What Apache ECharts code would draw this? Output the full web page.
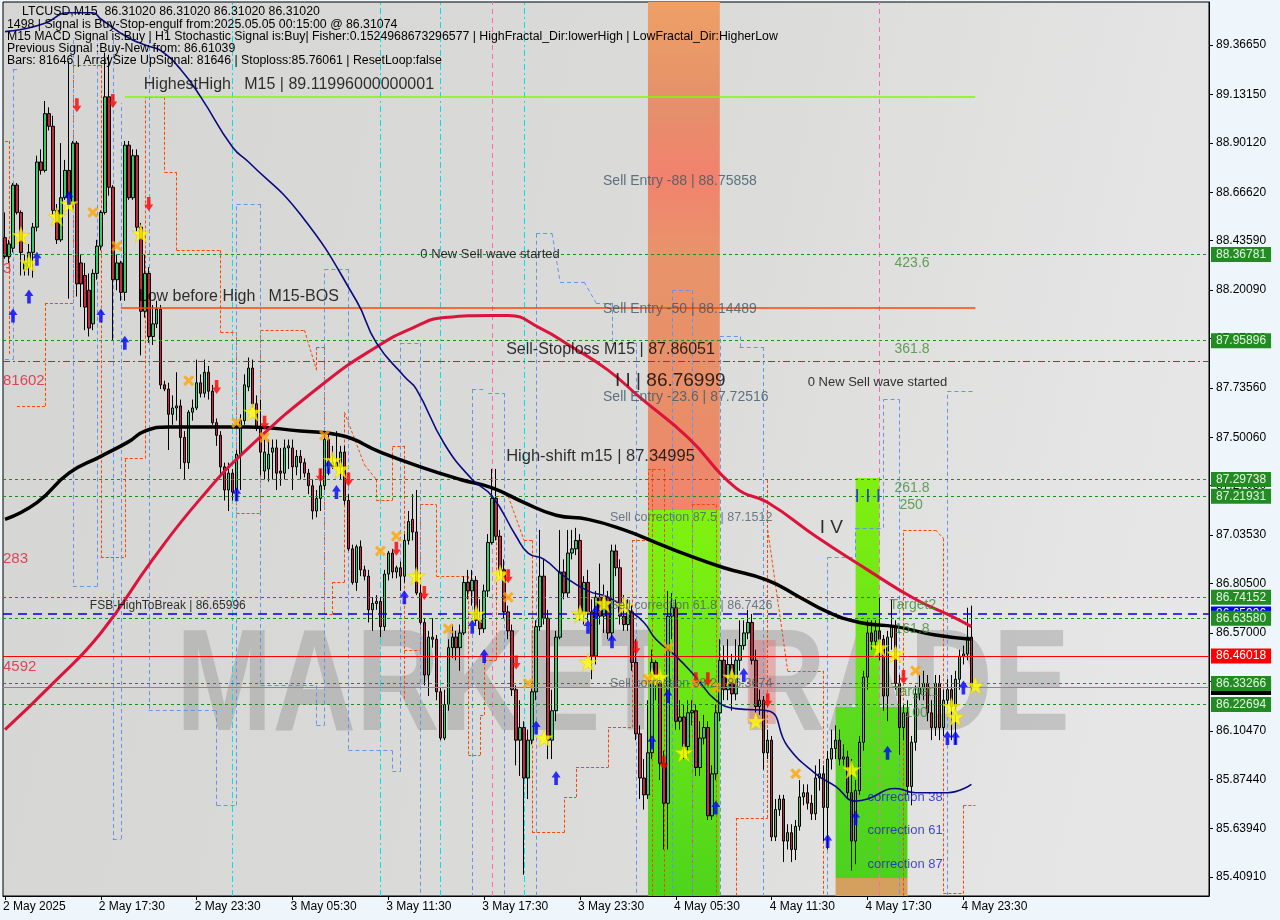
<!DOCTYPE html>
<html><head><meta charset="utf-8">
<script src="https://cdn.jsdelivr.net/npm/echarts@6/dist/echarts.min.js"></script>
<style>html,body{margin:0;padding:0;background:#eef5fb;}#c{width:1280px;height:920px;}</style>
</head><body><div id="c"></div>
<script>
const tickLabels = ['2 May 2025','2 May 17:30','2 May 23:30','3 May 05:30','3 May 11:30','3 May 17:30','3 May 23:30','4 May 05:30','4 May 11:30','4 May 17:30','4 May 23:30'];
const priceTicks = [89.3665,89.1315,88.9012,88.6662,88.4359,88.2009,87.9706,87.7356,87.5006,87.2703,87.0353,86.8050,86.5700,86.3397,86.1047,85.8744,85.6394,85.4091];
// [open, close, low, high]
const candles = [
[88.45,88.36,88.35,88.57],[88.36,88.42,88.33,88.44],[88.40,88.70,88.38,88.71],[88.70,88.57,88.56,88.71],[88.57,88.38,88.27,88.58],
[88.30,88.33,88.27,88.37],[88.31,88.38,88.27,88.42],[88.38,88.50,88.26,88.52],[88.50,88.81,88.48,88.84],[88.81,88.77,88.75,88.87],
[88.77,89.04,88.76,89.10],[89.04,88.98,88.96,89.07],[88.98,88.58,88.56,89.03],[88.58,88.44,88.42,88.61],[88.44,88.64,88.43,88.90],
[88.64,88.77,88.63,88.82],[88.77,88.61,88.16,89.29],[88.61,88.90,88.58,88.91],[88.90,88.23,88.17,88.91],[88.33,88.23,88.12,88.37],
[88.27,88.12,88.01,88.33],[88.20,88.02,87.98,88.28],[88.04,88.28,88.01,88.30],[88.28,88.41,88.25,88.44],[88.41,88.57,88.39,88.58],
[88.57,89.12,88.56,89.33],[89.12,88.69,88.65,89.32],[88.69,88.25,87.96,88.70],[88.25,88.33,88.20,88.37],[88.33,88.19,88.15,88.34],
[88.19,88.89,88.15,88.91],[88.89,88.64,88.63,88.91],[88.64,88.84,88.63,88.87],[88.84,88.50,88.48,88.87],[88.50,88.10,87.89,88.52],
[88.10,88.28,88.07,88.37],[88.28,87.98,87.95,88.31],[87.98,88.04,87.94,88.13],[88.04,88.11,88.02,88.15],[88.11,87.75,87.73,88.13],
[87.75,87.73,87.72,87.77],[87.73,87.61,87.44,87.76],[87.61,87.64,87.56,87.70],[87.64,87.65,87.58,87.81],[87.65,87.50,87.35,87.68],
[87.50,87.38,87.30,87.53],[87.38,87.62,87.35,87.63],[87.62,87.64,87.58,87.68],[87.64,87.76,87.63,87.87],[87.76,87.71,87.69,87.80],
[87.71,87.81,87.69,87.87],[87.81,87.72,87.68,87.84],[87.72,87.57,87.56,87.75],[87.57,87.51,87.46,87.59],[87.51,87.36,87.31,87.53],
[87.36,87.25,87.20,87.38],[87.25,87.33,87.15,87.38],[87.33,87.24,87.20,87.35],[87.25,87.42,87.20,87.44],[87.42,87.58,87.25,87.61],
[87.58,87.75,87.56,87.80],[87.74,87.83,87.72,87.88],[87.83,87.66,87.64,87.87],[87.66,87.55,87.53,87.70],[87.55,87.43,87.32,87.68],
[87.34,87.43,87.30,87.49],[87.35,87.42,87.29,87.49],[87.43,87.45,87.30,87.49],[87.45,87.33,87.25,87.49],[87.34,87.33,87.27,87.45],
[87.33,87.45,87.30,87.49],[87.45,87.46,87.35,87.49],[87.45,87.36,87.25,87.49],[87.36,87.41,87.32,87.44],[87.41,87.38,87.30,87.44],
[87.38,87.33,87.31,87.40],[87.33,87.27,87.23,87.35],[87.27,87.15,87.11,87.30],[87.15,87.21,87.12,87.25],[87.21,87.27,87.15,87.35],
[87.27,87.49,87.25,87.51],[87.49,87.36,87.32,87.53],[87.36,87.38,87.35,87.46],[87.38,87.36,87.35,87.53],[87.36,87.43,87.30,87.46],
[87.43,87.20,87.18,87.46],[87.20,86.97,86.96,87.23],[86.97,86.81,86.80,86.99],[86.81,86.98,86.77,86.99],[86.98,86.87,86.84,87.01],
[86.87,86.84,86.82,86.89],[86.84,86.68,86.62,86.87],[86.68,86.71,86.58,86.74],[86.71,86.72,86.68,86.75],[86.72,86.60,86.55,86.74],
[86.60,86.85,86.58,86.87],[86.85,86.95,86.82,86.96],[86.95,86.86,86.83,86.97],[86.86,86.88,86.83,86.89],[86.88,86.84,86.77,86.91],
[86.84,87.01,86.81,87.04],[87.01,87.10,86.99,87.15],[87.11,87.05,87.01,87.23],[87.05,86.76,86.75,87.25],[86.76,86.62,86.61,86.80],
[86.62,86.37,86.32,86.64],[86.37,86.55,86.27,86.58],[86.55,86.54,86.50,86.64],[86.54,86.29,86.25,86.56],[86.29,86.07,86.06,86.31],
[86.07,86.23,86.06,86.30],[86.23,86.50,86.20,86.54],[86.50,86.55,86.45,86.61],[86.55,86.50,86.44,86.58],[86.50,86.57,86.39,86.61],
[86.57,86.81,86.56,86.84],[86.81,86.77,86.73,86.87],[86.77,86.82,86.70,86.87],[86.82,86.63,86.61,86.84],[86.63,86.59,86.56,86.73],
[86.59,86.77,86.57,86.80],[86.77,87.00,86.74,87.04],[87.00,87.21,86.99,87.35],[87.21,87.03,87.01,87.35],[87.03,86.87,86.84,87.06],
[86.87,86.67,86.64,86.92],[86.67,86.58,86.54,86.70],[86.58,86.30,86.27,86.61],[86.30,86.06,85.94,86.32],[86.06,86.12,85.89,86.25],
[86.12,85.88,85.42,86.15],[85.88,86.06,85.78,86.11],[86.06,86.29,86.04,86.32],[86.29,86.60,86.25,86.63],[86.60,86.84,86.58,87.06],
[86.84,86.64,86.61,86.92],[86.64,86.06,85.97,86.68],[86.06,86.20,85.97,86.30],[86.20,86.55,86.15,86.58],[86.55,86.86,86.54,87.06],
[86.86,86.76,86.73,86.92],[86.76,86.95,86.74,87.06],[86.95,86.97,86.92,87.06],[86.97,87.01,86.94,87.07],[87.01,86.66,86.63,87.04],
[86.66,86.81,86.61,86.84],[86.81,86.67,86.63,86.87],[86.67,86.46,86.35,86.73],[86.46,86.74,86.42,86.77],[86.74,86.65,86.61,86.90],
[86.65,86.74,86.57,86.80],[86.74,86.57,86.54,86.77],[86.57,86.96,86.54,86.99],[86.96,86.88,86.84,86.99],[86.88,86.65,86.61,86.92],
[86.65,86.61,86.58,86.75],[86.61,86.67,86.58,86.73],[86.67,86.43,86.39,86.70],[86.43,86.09,86.06,86.54],[86.09,85.88,85.78,86.13],
[85.88,85.80,85.73,85.97],[85.80,86.00,85.78,86.25],[86.00,86.43,85.97,86.49],[86.43,86.33,86.25,86.44],[86.33,85.95,85.87,86.39],
[85.95,85.76,85.54,86.01],[85.76,86.65,85.54,86.77],[86.65,86.69,86.54,86.76],[86.69,86.15,86.11,86.73],[86.15,86.17,86.11,86.25],
[86.17,86.03,85.97,86.23],[86.03,86.19,85.97,86.25],[86.19,86.20,86.13,86.25],[86.20,85.93,85.89,86.23],[85.93,86.07,85.89,86.15],
[86.07,86.12,86.04,86.18],[86.12,85.70,85.68,86.15],[85.70,85.90,85.68,85.94],[85.90,86.19,85.87,86.23],[86.19,86.44,86.15,86.54],
[86.44,86.30,86.25,86.51],[86.30,86.42,86.25,86.54],[86.42,86.28,86.20,86.47],[86.28,86.44,86.25,86.54],[86.44,86.51,86.39,86.63],
[86.51,86.57,86.49,86.63],[86.57,86.62,86.54,86.68],[86.62,86.44,86.42,86.66],[86.44,86.22,86.19,86.49],[86.22,86.25,86.18,86.30],
[86.25,86.00,85.92,86.27],[86.00,86.06,85.97,86.11],[86.06,85.60,85.58,86.08],[85.60,85.73,85.58,85.78],[85.73,85.78,85.70,85.80],
[85.78,85.58,85.48,85.80],[85.58,85.62,85.54,85.66],[85.62,85.54,85.48,85.66],[85.54,85.65,85.49,85.68],[85.65,85.79,85.63,85.87],
[85.79,85.81,85.75,85.85],[85.81,85.76,85.73,85.85],[85.76,85.71,85.68,85.80],[85.71,85.88,85.68,85.94],[85.88,85.90,85.82,85.97],
[85.90,85.74,85.58,85.94],[85.74,85.97,85.54,86.01],[85.97,86.02,85.92,86.11],[86.02,86.06,85.97,86.13],[86.06,85.97,85.94,86.11],
[85.97,85.98,85.94,86.04],[85.98,85.81,85.78,86.01],[85.81,85.58,85.44,85.97],[85.58,85.82,85.47,85.87],[85.82,86.05,85.80,86.08],
[86.05,86.36,86.01,86.39],[86.36,86.57,86.30,86.63],[86.57,86.53,86.49,86.63],[86.53,86.58,86.49,86.63],[86.58,86.54,86.44,86.74],
[86.54,86.27,86.20,86.56],[86.27,86.55,86.15,86.58],[86.55,86.60,86.49,86.73],[86.60,86.33,86.30,86.63],[86.33,86.12,85.99,86.37],
[86.12,86.19,86.06,86.23],[86.19,85.84,85.80,86.25],[85.84,86.05,85.75,86.08],[86.05,86.28,86.01,86.32],[86.28,86.31,86.25,86.37],
[86.31,86.33,86.25,86.39],[86.33,86.19,86.15,86.37],[86.19,86.12,86.06,86.25],[86.12,86.33,86.08,86.37],[86.33,86.12,86.06,86.37],
[86.12,86.25,86.08,86.30],[86.25,86.30,86.23,86.35],[86.30,86.22,86.06,86.37],[86.22,86.35,86.04,86.39],[86.35,86.46,86.30,86.49],
[86.46,86.47,86.42,86.51],[86.47,86.55,86.44,86.69],[86.55,86.31,86.29,86.70]
];
const blackMA = [[0,87.11],[8,87.19],[16,87.33],[24,87.41],[31,87.48],[35,87.53],[41,87.55],[53,87.55],[61,87.55],[74,87.53],[84,87.51],[94,87.43],[104,87.36],[114,87.30],[122,87.26],[130,87.19],[138,87.13],[146,87.11],[155,87.06],[163,87.00],[171,86.94],[180,86.88],[191,86.82],[199,86.74],[206,86.67],[214,86.62],[223,86.60],[233,86.56],[242,86.54]];
const redMA = [[0,86.11],[12,86.33],[24,86.57],[37,86.92],[49,87.21],[61,87.45],[80,87.76],[93,87.93],[102,88.02],[110,88.07],[122,88.08],[126,88.08],[134,88.02],[142,87.93],[151,87.82],[159,87.69],[171,87.50],[183,87.26],[191,87.19],[203,87.03],[216,86.87],[228,86.73],[237,86.65],[242,86.60]];
const navyMA = [[0,89.43],[4,89.44],[10,89.47],[16,89.52],[22,89.52],[24,89.49],[31,89.40],[36,89.36],[39,89.34],[44,89.25],[49,89.12],[57,88.88],[61,88.81],[74,88.56],[88,88.15],[93,87.95],[100,87.79],[103,87.73],[110,87.47],[117,87.30],[122,87.22],[128,87.03],[131,86.95],[135,86.92],[140,86.84],[146,86.77],[151,86.74],[156,86.68],[160,86.62],[163,86.54],[168,86.46],[173,86.36],[178,86.25],[183,86.21],[191,86.20],[196,86.03],[203,85.90],[208,85.84],[213,85.77],[216,85.78],[223,85.83],[228,85.81],[236,85.81],[242,85.85]];
const starPts = [[4,88.46],[6,88.33],[13,88.55],[16,88.61],[34,88.47],[62,87.62],[82,87.39],[84,87.35],[103,86.84],[118,86.66],[124,86.85],[144,86.66],[150,86.71],[155,86.70],[146,86.43],[135,86.07],[162,86.36],[164,86.36],[170,86.00],[182,86.36],[188,86.15],[212,85.92],[219,86.50],[223,86.47],[237,86.22],[238,86.17],[243,86.32]];
const upArrows = [[2,88.08],[6,88.17],[8,88.35],[16,88.64],[24,88.08],[30,87.95],[58,87.23],[81,87.36],[83,87.24],[100,86.74],[117,86.60],[120,86.46],[133,86.12],[138,85.88],[146,86.60],[148,86.67],[152,86.53],[162,86.05],[166,86.27],[178,85.74],[185,86.37],[206,85.58],[213,85.69],[221,86.00],[236,86.07],[238,86.07],[240,86.31]];
const downArrows = [[18,89.08],[27,89.10],[36,88.61],[53,87.74],[65,87.57],[79,87.32],[86,87.30],[98,86.97],[105,86.76],[126,86.84],[128,86.43],[158,86.50],[165,85.95],[173,86.35],[176,86.35],[191,86.25],[225,86.36]];
const crossPts = [[22,88.57],[28,88.41],[46,87.77],[58,87.57],[65,87.50],[80,87.51],[94,86.96],[98,87.03],[111,86.59],[126,86.74],[131,86.33],[161,86.35],[166,86.50],[173,86.33],[178,86.31],[198,85.90],[228,86.39]];
// stepped channel segments [bar1, price1, bar2, price2]
const orangeSteps = [
[0,88.91,1,88.91],[1,88.91,1,87.89],[3,87.65,10,87.65],[10,87.65,10,88.14],[10,88.14,17,88.14],[17,88.14,17,89.27],[17,89.27,24,89.27],
[24,89.27,24,86.93],[24,86.93,30,86.93],[30,86.93,30,87.40],[30,87.40,35,87.40],[35,87.40,35,89.12],[35,89.12,40,89.12],[40,89.12,40,88.76],
[40,88.76,43,88.76],[43,88.76,43,88.39],[43,88.39,54,88.39],[54,88.39,54,88.00],[54,88.00,58,88.00],[58,88.00,58,87.14],[58,87.14,64,87.14],
[64,87.14,64,88.01],[64,88.01,75,88.01],[75,88.01,78,87.82],[78,87.82,78,87.93],[78,87.93,80,87.93],[80,87.93,80,86.66],[80,86.66,82,86.66],
[82,86.66,82,86.81],[82,86.81,85,86.81],[85,86.81,85,87.62],[85,87.62,90,87.37],[90,87.37,93,87.30],[93,87.30,93,87.20],[93,87.20,97,87.20],
[97,87.20,97,87.46],[97,87.46,100,87.46],[100,87.46,100,86.25],[100,86.49,104,86.49],[104,86.49,104,87.18],[104,87.18,108,87.18],
[108,87.18,108,86.84],[108,86.84,116,86.84],[116,86.84,116,85.99],[116,85.99,119,85.99],[119,85.99,119,86.18],[119,86.18,120,86.18],
[120,86.18,120,86.44],[120,86.44,123,86.44],[123,86.44,123,87.22],[123,87.22,126,87.22],[126,87.22,130,87.01],[130,87.01,132,87.01],
[132,87.01,132,85.62],[132,85.62,140,85.62],[140,85.62,140,85.79],[140,85.79,143,85.79],[143,85.79,143,85.93],[143,85.93,151,85.93],
[151,85.93,151,86.12],[151,86.12,157,86.12],[157,86.12,157,87.01],[157,87.01,161,87.01],[161,87.01,161,87.35],[161,87.35,165,87.35],
[162,87.35,162,85.32],[165,87.35,165,85.32],[172,87.18,172,85.32],[172,87.18,178,87.18],[178,87.18,178,85.32],
[183,85.32,183,85.69],[183,85.69,191,85.69],[191,85.69,191,87.30],[191,87.06,196,86.39],[196,86.39,205,86.39],[205,86.39,205,85.32],
[225,85.32,225,87.06],[225,87.06,233,87.06],[233,87.06,235,87.02],[235,87.02,235,85.33],[235,85.33,240,85.33],[240,85.33,240,85.75],[240,85.75,243,85.75]
];
const blueSteps = [
[0,87.87,2,87.87],[2,87.87,2,89.25],[2,89.25,3,89.25],[17,89.39,17,86.79],[17,86.79,23,86.79],[23,86.79,23,89.39],
[27,89.39,27,85.59],[27,85.59,29,85.59],[29,85.59,29,89.09],[36,89.39,36,86.20],[36,86.20,53,86.20],[53,86.20,53,85.75],
[53,85.75,58,85.75],[58,85.75,58,88.61],[58,88.61,64,88.61],[64,88.61,64,86.32],[64,86.32,78,86.32],[78,86.32,78,86.13],
[78,86.13,80,86.13],[80,86.13,80,88.30],[80,88.30,86,88.30],[86,88.30,86,86.01],[86,86.01,97,86.01],[97,86.01,97,85.91],
[97,85.91,99,85.91],[99,85.91,99,87.95],[99,87.95,104,87.95],[104,87.95,104,85.32],[117,87.73,120,87.73],[117,87.73,117,85.32],
[121,87.71,125,87.71],[125,87.71,125,85.32],[133,85.32,133,88.47],[133,88.47,137,88.47],[137,88.47,139,88.24],[139,88.24,145,88.24],
[145,88.24,148,88.14],[148,88.14,152,88.14],[152,88.14,152,87.95],[152,87.95,158,87.95],[158,87.95,158,85.32],
[167,85.32,167,88.20],[167,88.20,172,88.20],[172,88.20,172,85.32],[179,85.32,179,87.98],[179,87.98,184,87.98],[184,87.98,184,87.93],
[184,87.93,190,87.93],[190,87.93,190,85.32],[206,85.32,206,86.93],[206,86.93,213,86.93],[213,86.93,213,87.07],[213,87.07,220,87.07],
[220,87.07,220,87.68],[220,87.68,224,87.68],[224,87.68,224,85.32],[236,85.32,236,87.72],[236,87.72,243,87.72]
];
// [bar, price, text, color, size, dx]
const annotations = [
 [35,89.18,'HighestHigh   M15 | 89.11996000000001','#000',16,-1],
 [34,88.17,'Low before High   M15-BOS','#000',16,-2],
 [104,88.37,'0 New Sell wave started','#000',13,0],
 [150,88.72,'Sell Entry -88 | 88.75858','#3b5766',14,-1],
 [150,88.11,'Sell Entry -50 | 88.14489','#3b5766',14,-1],
 [125,87.92,'Sell-Stoploss M15 | 87.86051','#000',16,2],
 [153,87.77,'I I | 86.76999','#000',19,-1],
 [150,87.69,'Sell Entry -23.6 | 87.72516','#3b5766',14,-1],
 [201,87.76,'0 New Sell wave started','#000',13,0],
 [125,87.41,'High-shift m15 | 87.34995','#000',16.5,2],
 [152,87.12,'Sell correction 87.5 | 87.1512','#4f5f6e',12.5,-2],
 [152,86.70,'Sell correction 61.8 | 86.7426','#4f5f6e',12.5,-2],
 [152,86.33,'Sell correction 38.2 | 86.3674','#4f5f6e',12.5,-2],
 [21,86.70,'FSB-HighToBreak | 86.65996','#000',12,1],
 [204,87.07,'I V','#000',19,0],
 [213,87.22,'I I I','#1515ff',19,-1],
 [223,88.33,'423.6','#3f8f2f',14,-1],[223,87.92,'361.8','#3f8f2f',14,-1],[223,87.26,'261.8','#3f8f2f',14,-1],[224,87.18,'250','#3f8f2f',14,0],
 [222,86.70,'Target2','#3f8f2f',14,-2],[223,86.59,'161.8','#3f8f2f',14,-1],[223,86.29,'Target1','#3f8f2f',14,-3],[225,86.19,'100','#3f8f2f',14,1],
 [216,85.79,'correction 38','#1c1cd0',13,0],[216,85.63,'correction 61','#1c1cd0',13,0],[216,85.47,'correction 87','#1c1cd0',13,0],
 [0,88.30,'3','#e0203a',15,-2],[0,87.77,'81602','#e0203a',15,-2],[0,86.92,'283','#e0203a',15,-2],[0,86.41,'4592','#e0203a',15,-2]
];
const greenLevels = [88.36781,87.95896,87.29738,87.21931,86.74152,86.63580,86.22694];
const cyanLines = [57,94,109,130];
const pinkLines = [122,219];

const FONT = '"Liberation Sans", Arial, sans-serif';
const N = 302;
const cats = Array.from({length:N},(_, i)=>String(i));
const yMin = 85.3188, yMax = 89.571;
const showTick = (i)=> i % 24 === 0 && i/24 < tickLabels.length;

function boxLabel(text,bg,fg){
  return {show:true, position:'end', distance:2, formatter:text, backgroundColor:bg, color:fg, padding:[2,5,1,5], fontSize:12, fontFamily:FONT};
}
const G = echarts.graphic.LinearGradient;
const markLines = [];
markLines.push({yAxis:86.65996, lineStyle:{color:'#0000dd', type:[9,6], width:1.5}, label:boxLabel('86.65996','#0000ff','#ffffff')});
greenLevels.forEach(v=>markLines.push({yAxis:v, lineStyle:{color:'#1f8a1f', type:[3,3], width:1}, label:boxLabel(v.toFixed(5),'#228b22','#e6f5e6')}));
markLines.push({yAxis:87.86051, lineStyle:{color:'#dc143c', type:[7,3,2,3], width:1}});
markLines.push({yAxis:86.46018, lineStyle:{color:'#ff0000', type:'solid', width:1}, label:boxLabel('86.46018','#ff0000','#ffffff')});
markLines.push({yAxis:86.31020, lineStyle:{color:'#7f8890', type:'solid', width:1}, label:boxLabel('86.31020','#000000','#ffffff')});
markLines.push({yAxis:86.33266, lineStyle:{color:'#1f8a1f', type:[3,3], width:1}, label:boxLabel('86.33266','#228b22','#e6f5e6')});
markLines.push([{coord:[30,89.11996], lineStyle:{color:'#7cfc00', width:1.5, type:'solid'}},{coord:[243,89.11996]}]);
markLines.push([{coord:[29,88.1156], lineStyle:{color:'#ff4500', width:1.5, type:'solid'}},{coord:[243,88.1156]}]);

const stepLines = [];
cyanLines.forEach(b=>stepLines.push({xAxis:b, lineStyle:{color:'#00e0ee', type:[6,3,2,3], width:1}}));
pinkLines.forEach(b=>stepLines.push({xAxis:b, lineStyle:{color:'#ff69b4', type:[5,4], width:1}}));
orangeSteps.forEach(s=>stepLines.push([{coord:[s[0],s[1]], lineStyle:{color:'#ff4500', type:[3,2], width:1}},{coord:[s[2],s[3]]}]));
blueSteps.forEach(s=>stepLines.push([{coord:[s[0],s[1]], lineStyle:{color:'#6495ed', type:[4,3], width:1}},{coord:[s[2],s[3]]}]));

const bands = [
 [{xAxis:161, yAxis:87.155, itemStyle:{color:new G(0,0,0,1,[{offset:0,color:'#eea066'},{offset:0.2,color:'#e5906a'},{offset:0.34,color:'#f2826e'},{offset:0.5,color:'#e8946a'},{offset:0.8,color:'#e88e68'},{offset:1,color:'#f2846e'}])}},{xAxis:179, yAxis:yMax}],
 [{xAxis:161, yAxis:yMin, itemStyle:{color:new G(0,0,0,1,[{offset:0,color:'#80f20e'},{offset:0.5,color:'#6ae616'},{offset:1,color:'#4ed41c'}])}},{xAxis:179, yAxis:87.155}],
 [{xAxis:208, yAxis:85.4043, itemStyle:{color:new G(0,0,0,1,[{offset:0,color:'#5cdc1e'},{offset:1,color:'#4cd21e'}])}},{xAxis:226, yAxis:86.218}],
 [{xAxis:208, yAxis:yMin, itemStyle:{color:'#d4a05e'}},{xAxis:226, yAxis:85.4043}],
 [{xAxis:213, yAxis:86.218, itemStyle:{color:new G(0,0,0,1,[{offset:0,color:'#80f010'},{offset:1,color:'#62e01a'}])}},{xAxis:219, yAxis:87.307}],
 [{xAxis:186, yAxis:86.137, itemStyle:{color:'rgba(228,110,110,0.42)'}},{xAxis:193, yAxis:86.536}]
];

const STAR = 'path://M12,0 L14.9,8.6 L24,8.6 L16.6,14 L19.4,22.8 L12,17.4 L4.6,22.8 L7.4,14 L0,8.6 L9.1,8.6 Z';
const UP = 'path://M5,0 L10,6 L7,6 L7,13 L3,13 L3,6 L0,6 Z';
const DOWN = 'path://M3,0 L7,0 L7,7 L10,7 L5,13 L0,7 L3,7 Z';
const CROSS = 'path://M0,2 L2,0 L5,3 L8,0 L10,2 L7,5 L10,8 L8,10 L5,7 L2,10 L0,8 L3,5 Z';

const info = [
 [22,12,'LTCUSD,M15  86.31020 86.31020 86.31020 86.31020'],
 [7,25,'1498 | Signal is Buy-Stop-engulf from:2025.05.05 00:15:00 @ 86.31074'],
 [7,37,'M15 MACD Signal is:Buy | H1 Stochastic Signal is:Buy| Fisher:0.1524968673296577 | HighFractal_Dir:lowerHigh | LowFractal_Dir:HigherLow'],
 [7,49,'Previous Signal :Buy-New from: 86.61039'],
 [7,61,'Bars: 81646 | ArraySize UpSignal: 81646 | Stoploss:85.76061 | ResetLoop:false']
];

const chart = echarts.init(document.getElementById('c'), null, {width:1280, height:920});
const graphics = [
 {type:'text', z:1, x:176, y:690, scaleX:0.804, silent:true, style:{text:'MARKETTRADE', font:'bold 144px "Liberation Sans"', fill:'rgba(115,115,115,0.3)', verticalAlign:'middle'}}
];
info.forEach(r=>graphics.push({type:'text', z:10, x:r[0], y:r[1], silent:true, style:{text:r[2], font:'12.3px "Liberation Sans"', fill:'#000', verticalAlign:'middle'}}));

chart.setOption({
  animation:false,
  backgroundColor:'#eef5fb',
  grid:{left:2, right:71, top:2, bottom:24, show:true, borderColor:'#000', borderWidth:1,
        backgroundColor:new G(0,0,1,0.3,[{offset:0,color:'#d5d5d3'},{offset:0.6,color:'#dbdbda'},{offset:1,color:'#e6e6e6'}])},
  xAxis:{type:'category', data:cats, boundaryGap:true,
    axisLine:{lineStyle:{color:'#000'}},
    axisTick:{show:true, alignWithLabel:true, interval:showTick, length:4, lineStyle:{color:'#000'}},
    axisLabel:{interval:showTick, formatter:(v,i)=>tickLabels[Math.round(i/24)], align:'left', color:'#000', fontSize:12, fontFamily:FONT, margin:5, padding:[0,0,0,-2]},
    splitLine:{show:false}},
  yAxis:{type:'value', position:'right', min:yMin, max:yMax,
    axisLine:{show:true, lineStyle:{color:'#000'}},
    axisTick:{show:true, customValues:priceTicks, length:4, lineStyle:{color:'#000'}},
    axisLabel:{customValues:priceTicks, formatter:v=>v.toFixed(5), color:'#000', fontSize:12, fontFamily:FONT, margin:7},
    splitLine:{show:false}},
  graphic:graphics,
  series:[
    {type:'line', name:'channel', data:[[0,null]], z:1.6, silent:true, showSymbol:false,
      markLine:{silent:true, symbol:['none','none'], z:1.6, label:{show:false}, data:stepLines}},
    {type:'candlestick', name:'LTCUSD', data:candles, barWidth:3, z:2,
      itemStyle:{color:'#33cc6a', color0:'#c8283e', borderColor:'#000', borderColor0:'#000', borderWidth:1},
      markArea:{silent:true, z:1, data:bands},
      markLine:{silent:true, symbol:['none','none'], z:3, label:{show:false}, data:markLines}
    },
    {type:'line', name:'ma_black', data:blackMA, smooth:true, showSymbol:false, z:4, lineStyle:{color:'#000', width:3.5}},
    {type:'line', name:'ma_red', data:redMA, smooth:true, showSymbol:false, z:4, lineStyle:{color:'#dc143c', width:3}},
    {type:'line', name:'ma_navy', data:navyMA, smooth:true, showSymbol:false, z:4, lineStyle:{color:'#0a0a80', width:1.6}},
    {type:'scatter', name:'stars', data:starPts, symbol:STAR, symbolSize:18, z:6, itemStyle:{color:'#ffff00', borderColor:'#e8c000', borderWidth:0.6}},
    {type:'scatter', name:'up', data:upArrows, symbol:UP, symbolSize:[9,14], z:6, itemStyle:{color:'#0000ff'}},
    {type:'scatter', name:'down', data:downArrows, symbol:DOWN, symbolSize:[9,14], z:6, itemStyle:{color:'#ff0000'}},
    {type:'scatter', name:'cross', data:crossPts, symbol:CROSS, symbolSize:11, z:6, itemStyle:{color:'#ffa500'}},
    {type:'scatter', name:'texts', symbolSize:0, z:7, silent:true,
      data:annotations.map(a=>({value:[a[0],a[1]], label:{show:true, position:'right', distance:0, offset:[a[5],0], formatter:a[2], color:a[3], fontSize:a[4], fontFamily:FONT}}))}
  ]
});
</script></body></html>
